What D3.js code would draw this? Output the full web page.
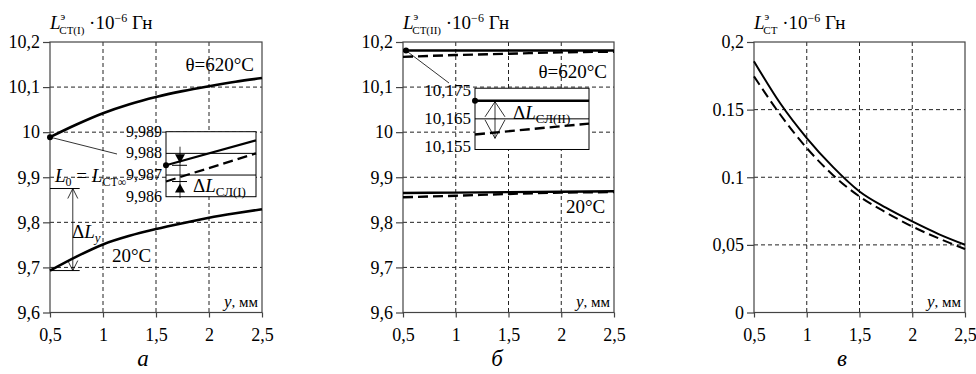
<!DOCTYPE html>
<html>
<head>
<meta charset="utf-8">
<script src="https://cdn.jsdelivr.net/npm/d3@7"></script>
<style>
  body { margin: 0; background: #fff; }
  svg text { font-family: "Liberation Serif", "Times New Roman", "DejaVu Serif", serif; fill: #000; }
</style>
</head>
<body>
<script>
// distance y, mm
const yPoints = [0.5, 0.75, 1, 1.25, 1.5, 1.75, 2, 2.25, 2.5];

// panel a: L_CT(I)
const aHot = [9.989, 10.017, 10.042, 10.062, 10.078, 10.091, 10.102, 10.112, 10.120];
const aCold = [9.693, 9.724, 9.751, 9.770, 9.785, 9.798, 9.810, 9.820, 9.829];

// panel b: L_CT(II)
const bPoints = [0.5, 1, 1.5, 2, 2.5];
const bHotSolid = [10.181, 10.181, 10.181, 10.181, 10.181];
const bHotDash = [10.167, 10.171, 10.174, 10.177, 10.1785];
const bColdSolid = [9.865, 9.866, 9.867, 9.868, 9.869];
const bColdDash = [9.8556, 9.859, 9.863, 9.866, 9.867];

// panel c: L_CT
const cSolid = [0.1857, 0.1545, 0.1290, 0.1075, 0.0895, 0.0775, 0.0673, 0.0580, 0.0501];
const cDash = [0.1746, 0.1462, 0.1216, 0.1015, 0.0858, 0.0740, 0.0636, 0.0548, 0.0469];

// insets
const insetX = [0.5, 2.5];
const insetASolid = [9.98745, 9.9886];
const insetADash = [9.9867, 9.9880];
const insetATicks = [9.986, 9.987, 9.988, 9.989];
const insetATickLabels = ["9,986", "9,987", "9,988", "9,989"];
const insetBSolid = [10.1715, 10.1715];
const insetBDash = [10.1594, 10.1633];
const insetBTicks = [10.155, 10.165, 10.175];
const insetBTickLabels = ["10,155", "10,165", "10,175"];

// ticks
const xTicks = [0.5, 1, 1.5, 2, 2.5];
const xTickLabels = ["0,5", "1", "1,5", "2", "2,5"];
const abTicks = [9.6, 9.7, 9.8, 9.9, 10, 10.1, 10.2];
const abTickLabels = ["9,6", "9,7", "9,8", "9,9", "10", "10,1", "10,2"];
const cTicks = [0, 0.05, 0.1, 0.15, 0.2];
const cTickLabels = ["0", "0,05", "0.1", "0.15", "0,2"];

const FONT = "'Liberation Serif', 'Times New Roman', 'DejaVu Serif', serif";
const svgWidth = 976, svgHeight = 374;
const plotTop = 42, plotBottom = 312.5;

const svg = d3.select("body").append("svg")
  .attr("width", svgWidth)
  .attr("height", svgHeight)
  .attr("font-family", FONT);

function drawPanel(x0, x1, domain, ticks, labels, titleSub, letter, letterX) {
  const x = d3.scaleLinear().domain([0.5, 2.5]).range([x0, x1]);
  const y = d3.scaleLinear().domain(domain).range([plotBottom, plotTop]);
  const g = svg.append("g");

  // grid
  g.selectAll(".gx").data(xTicks.slice(1, -1)).enter().append("line")
    .attr("x1", d => x(d)).attr("x2", d => x(d))
    .attr("y1", plotTop).attr("y2", plotBottom)
    .attr("stroke", "#222").attr("stroke-width", 1).attr("stroke-dasharray", "4,3");
  g.selectAll(".gy").data(ticks.slice(1, -1)).enter().append("line")
    .attr("x1", x0).attr("x2", x1)
    .attr("y1", d => y(d)).attr("y2", d => y(d))
    .attr("stroke", "#222").attr("stroke-width", 1).attr("stroke-dasharray", "4,3");

  // frame
  g.append("rect").attr("x", x0).attr("y", plotTop)
    .attr("width", x1 - x0).attr("height", plotBottom - plotTop)
    .attr("fill", "none").attr("stroke", "#444").attr("stroke-width", 1.2);

  const ax = g.append("g").attr("transform", `translate(0,${plotBottom})`)
    .call(d3.axisBottom(x).tickValues(xTicks).tickSize(5).tickPadding(11)
      .tickFormat((d, i) => xTickLabels[i]));
  const ay = g.append("g").attr("transform", `translate(${x0},0)`)
    .call(d3.axisLeft(y).tickValues(ticks).tickSize(7).tickPadding(3)
      .tickFormat((d, i) => labels[i]));
  [ax, ay].forEach(a => {
    a.attr("font-family", FONT).attr("font-size", 18);
    a.select(".domain").remove();
    a.selectAll("line").attr("stroke", "#444").attr("stroke-width", 1.2);
    a.selectAll("text").attr("fill", "#000");
  });

  // axis title
  const t = g.append("text").attr("x", x0).attr("y", 29).attr("font-size", 19);
  t.append("tspan").attr("font-style", "italic").text("L");
  t.append("tspan").attr("font-size", 11).attr("dy", -9).text("э");
  t.append("tspan").attr("font-size", 11).attr("dx", -6).attr("dy", 14).text(titleSub);
  t.append("tspan").attr("dy", -5).text(" ·10");
  t.append("tspan").attr("font-size", 12).attr("dy", -7).text("−6");
  t.append("tspan").attr("dy", 7).text("  Гн");

  // x label
  const xl = g.append("text").attr("x", x1 - 4).attr("y", 307)
    .attr("text-anchor", "end").attr("font-size", 17);
  xl.append("tspan").attr("font-style", "italic").text("y");
  xl.append("tspan").attr("font-size", 15).text(", мм");

  g.append("text").attr("x", letterX).attr("y", 366)
    .attr("text-anchor", "middle").attr("font-size", 23).attr("font-style", "italic")
    .text(letter);

  return { g, x, y };
}

function curve(g, x, y, xs, vals, dashed, width) {
  const line = d3.line().x((d, i) => x(xs[i])).y(d => y(d)).curve(d3.curveMonotoneX);
  g.append("path").datum(vals).attr("d", line)
    .attr("fill", "none").attr("stroke", "#000").attr("stroke-width", width)
    .attr("stroke-dasharray", dashed ? "10,5" : null);
}

function subText(g, px, py, size, parts) {
  const t = g.append("text").attr("x", px).attr("y", py).attr("font-size", size);
  parts.forEach(p => {
    const s = t.append("tspan").text(p.t);
    if (p.i) s.attr("font-style", "italic");
    if (p.s) s.attr("font-size", p.s);
    if (p.dy) s.attr("dy", p.dy);
    if (p.dx) s.attr("dx", p.dx);
  });
  return t;
}

// ---------- panel a ----------
const A = drawPanel(50, 262, [9.6, 10.2], abTicks, abTickLabels, "СТ(I)", "а", 143);
curve(A.g, A.x, A.y, yPoints, aHot, false, 2.6);
curve(A.g, A.x, A.y, yPoints, aCold, false, 2.6);
A.g.append("circle").attr("cx", A.x(0.5)).attr("cy", A.y(aHot[0])).attr("r", 3);
A.g.append("text").attr("x", 254).attr("y", 71).attr("text-anchor", "end")
  .attr("font-size", 19).text("θ=620°C");
A.g.append("text").attr("x", 112).attr("y", 262).attr("font-size", 19).text("20°C");

// L0 / delta Ly annotation
const L0 = 9.875;
A.g.append("line").attr("x1", A.x(0.5)).attr("x2", A.x(0.78))
  .attr("y1", A.y(L0)).attr("y2", A.y(L0)).attr("stroke", "#000");
A.g.append("line").attr("x1", A.x(0.5)).attr("x2", A.x(0.78))
  .attr("y1", A.y(aCold[0])).attr("y2", A.y(aCold[0])).attr("stroke", "#000");
const ax715 = A.x(0.715);
A.g.append("line").attr("x1", ax715).attr("x2", ax715)
  .attr("y1", A.y(L0)).attr("y2", A.y(aCold[0])).attr("stroke", "#000").attr("stroke-width", 0.8);
[[A.y(L0), 1], [A.y(aCold[0]), -1]].forEach(([yy, s]) => {
  A.g.append("path")
    .attr("d", `M${ax715 - 5},${yy + s * 10}L${ax715},${yy}L${ax715 + 5},${yy + s * 10}`)
    .attr("fill", "none").attr("stroke", "#000").attr("stroke-width", 0.8);
});
subText(A.g, 55, 182, 19, [
  { t: "L", i: true }, { t: "0", s: 12, dy: 4 }, { t: " = ", dy: -4 },
  { t: "L", i: true }, { t: "СТ∞", s: 12, dy: 4 }
]);
subText(A.g, 72, 238, 19, [{ t: "Δ" }, { t: "L", i: true }, { t: "y", i: true, s: 13, dy: 4 }]);

// inset a
const iax = d3.scaleLinear().domain([0.5, 2.5]).range([166, 256]);
const iay = d3.scaleLinear().domain([9.986, 9.989]).range([196.7, 131.7]);
A.g.append("rect").attr("x", 166).attr("y", iay(9.989)).attr("width", 90)
  .attr("height", iay(9.986) - iay(9.989)).attr("fill", "#fff")
  .attr("stroke", "#000").attr("stroke-width", 1);
A.g.selectAll(".iah").data([9.987, 9.988]).enter().append("line")
  .attr("x1", 166).attr("x2", 256).attr("y1", d => iay(d)).attr("y2", d => iay(d))
  .attr("stroke", "#000").attr("stroke-width", 1);
A.g.selectAll(".ial").data(insetATicks).enter().append("text")
  .attr("x", 162).attr("y", d => iay(d) + 5).attr("text-anchor", "end")
  .attr("font-size", 16).text((d, i) => insetATickLabels[i]);
curve(A.g, iax, iay, insetX, insetASolid, false, 2.2);
curve(A.g, iax, iay, insetX, insetADash, true, 2.2);
A.g.append("circle").attr("cx", iax(0.5)).attr("cy", iay(insetASolid[0])).attr("r", 3);
A.g.append("line").attr("x1", A.x(0.5)).attr("y1", A.y(aHot[0]))
  .attr("x2", 117).attr("y2", 154).attr("stroke", "#000").attr("stroke-width", 0.8);
const ys1 = iay(insetASolid[0]), ys2 = iay(insetADash[0]);
A.g.append("line").attr("x1", 180).attr("x2", 180).attr("y1", 146.7).attr("y2", 198)
  .attr("stroke", "#000").attr("stroke-width", 0.8);
[ys1, ys2].forEach(yy => A.g.append("line").attr("x1", 172).attr("x2", 187)
  .attr("y1", yy).attr("y2", yy).attr("stroke", "#000").attr("stroke-width", 1));
A.g.append("path").attr("d", `M175,${ys1 - 11}L185,${ys1 - 11}L180,${ys1 - 2}Z`);
A.g.append("path").attr("d", `M175,${ys2 + 11}L185,${ys2 + 11}L180,${ys2 + 2}Z`);
subText(A.g, 193, 192, 19, [{ t: "Δ" }, { t: "L", i: true }, { t: "СЛ(I)", s: 13, dy: 4 }]);

// ---------- panel b ----------
const B = drawPanel(403, 614, [9.6, 10.2], abTicks, abTickLabels, "СТ(II)", "б", 497);
curve(B.g, B.x, B.y, bPoints, bHotSolid, false, 2.4);
curve(B.g, B.x, B.y, bPoints, bHotDash, true, 2.4);
curve(B.g, B.x, B.y, bPoints, bColdSolid, false, 2.4);
curve(B.g, B.x, B.y, bPoints, bColdDash, true, 2.4);
B.g.append("circle").attr("cx", B.x(0.5) + 3).attr("cy", B.y(bHotSolid[0])).attr("r", 3);
B.g.append("line").attr("x1", B.x(0.5) + 3).attr("y1", B.y(bHotSolid[0]))
  .attr("x2", 449).attr("y2", 83).attr("stroke", "#000").attr("stroke-width", 0.8);
B.g.append("text").attr("x", 607).attr("y", 78).attr("text-anchor", "end")
  .attr("font-size", 19).text("θ=620°C");
B.g.append("text").attr("x", 566).attr("y", 213).attr("font-size", 19).text("20°C");

// inset b
const ibx = d3.scaleLinear().domain([0.5, 2.5]).range([475, 589]);
const iby = d3.scaleLinear().domain([10.155, 10.175]).range([146.7, 91]);
B.g.append("rect").attr("x", 475).attr("y", iby(10.176)).attr("width", 114)
  .attr("height", iby(10.154) - iby(10.176)).attr("fill", "#fff")
  .attr("stroke", "#000").attr("stroke-width", 1);
B.g.append("line").attr("x1", 475).attr("x2", 589)
  .attr("y1", iby(10.165)).attr("y2", iby(10.165)).attr("stroke", "#000");
B.g.selectAll(".ibl").data(insetBTicks).enter().append("text")
  .attr("x", 471).attr("y", d => iby(d) + 5).attr("text-anchor", "end")
  .attr("font-size", 17).text((d, i) => insetBTickLabels[i]);
curve(B.g, ibx, iby, insetX, insetBSolid, false, 2.4);
curve(B.g, ibx, iby, insetX, insetBDash, true, 2.4);
B.g.append("circle").attr("cx", 475).attr("cy", iby(insetBSolid[0])).attr("r", 3);
const bt = iby(insetBSolid[0]) + 1, bb = iby(10.158), bm = iby(10.165);
B.g.append("line").attr("x1", 495).attr("x2", 495).attr("y1", bt).attr("y2", bb)
  .attr("stroke", "#000").attr("stroke-width", 0.8);
B.g.append("path")
  .attr("d", `M485,${bm - 2}L495,${bt}L505,${bm - 2}M485,${bm + 1}L495,${bb}L505,${bm + 1}`)
  .attr("fill", "none").attr("stroke", "#000").attr("stroke-width", 0.8);
subText(B.g, 513, 119, 19, [{ t: "Δ" }, { t: "L", i: true }, { t: "СЛ(II)", s: 13, dy: 4 }]);

// ---------- panel c ----------
const C = drawPanel(754, 965, [0, 0.2], cTicks, cTickLabels, "СТ", "в", 842);
curve(C.g, C.x, C.y, yPoints, cSolid, false, 2);
curve(C.g, C.x, C.y, yPoints, cDash, true, 2);
</script>
</body>
</html>
